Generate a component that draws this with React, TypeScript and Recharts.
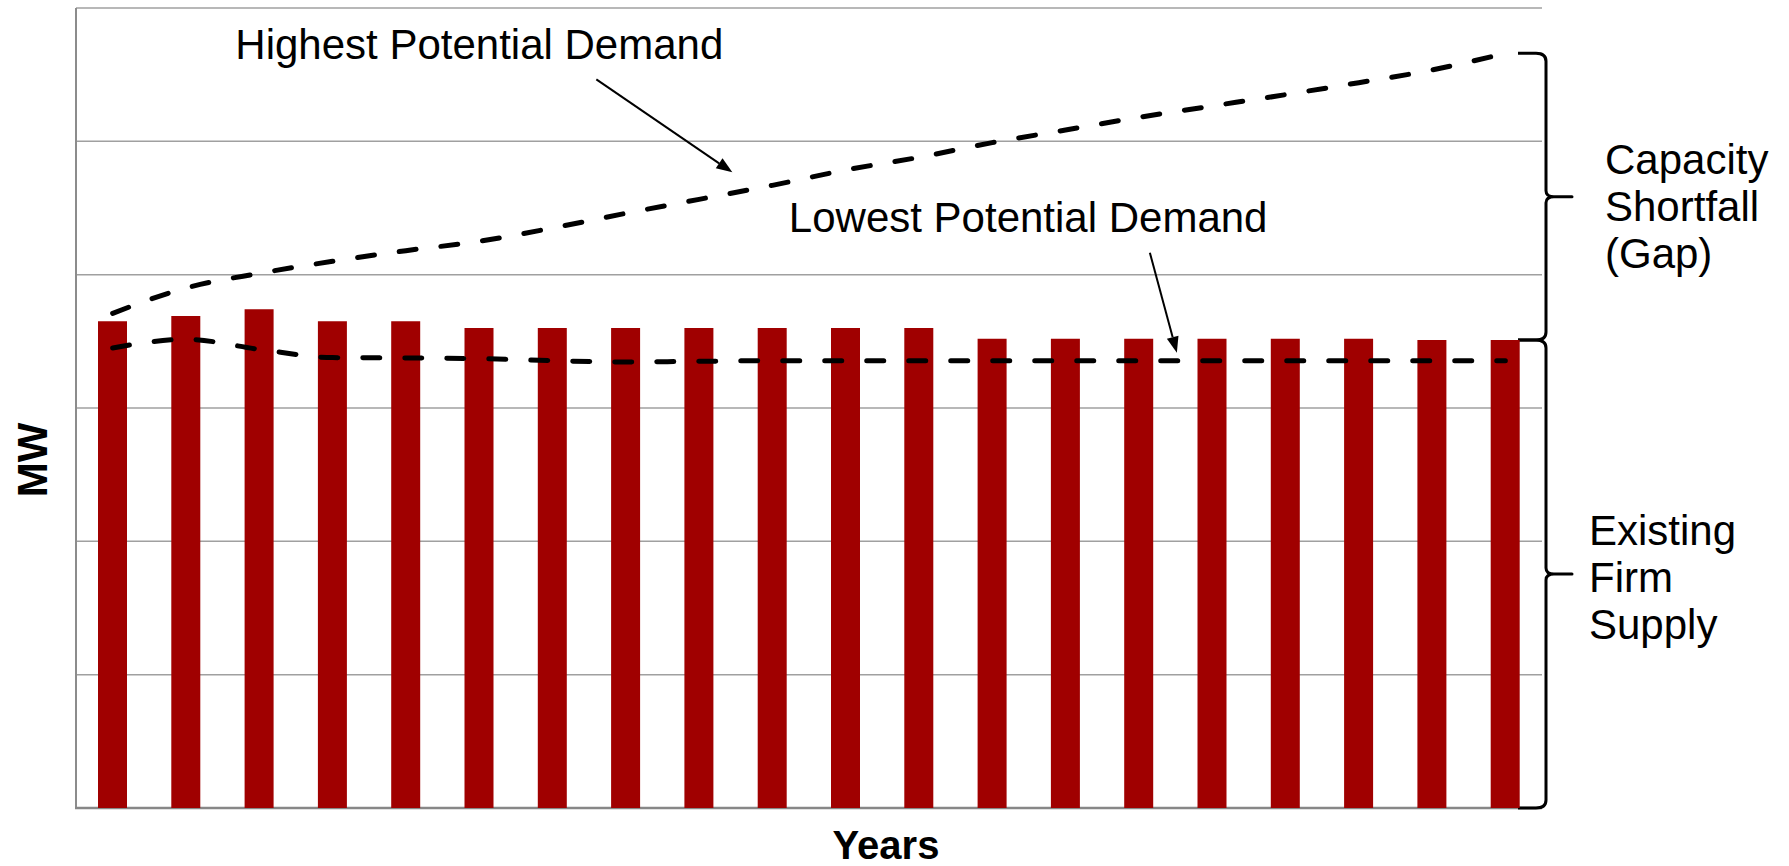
import React from 'react';
import {
  ComposedChart,
  Bar,
  Line,
  XAxis,
  YAxis,
  CartesianGrid,
  ReferenceArea,
  ReferenceDot,
} from 'recharts';

// Planning horizon (20 years) and MW series
const years = ['1', '2', '3', '4', '5', '6', '7', '8', '9', '10', '11', '12', '13', '14', '15', '16', '17', '18', '19', '20'];
const firmSupply = [3650, 3690, 3740, 3650, 3650, 3600, 3600, 3600, 3600, 3600, 3600, 3600, 3520, 3520, 3520, 3520, 3520, 3520, 3510, 3510];
const highDemand = [3710, 3900, 4010, 4100, 4180, 4250, 4350, 4460, 4565, 4670, 4785, 4880, 4990, 5085, 5180, 5265, 5350, 5440, 5535, 5660];
const lowDemand = [3450, 3515, 3440, 3378, 3375, 3370, 3355, 3345, 3350, 3355, 3355, 3355, 3355, 3355, 3355, 3355, 3355, 3355, 3355, 3355];
const yTicks = [0, 1000, 2000, 3000, 4000, 5000, 6000];

const FONT = '"Liberation Sans", Arial, sans-serif';
const LAST = years.length - 1;

const chartData = years.map((year, i) => ({
  year,
  supply: firmSupply[i],
  high: highDemand[i],
  low: lowDemand[i],
}));

function Arrow({ x1, y1, x2, y2 }: { x1: number; y1: number; x2: number; y2: number }) {
  const ang = Math.atan2(y2 - y1, x2 - x1);
  const len = 16;
  const half = 6;
  const bx = x2 - len * Math.cos(ang);
  const by = y2 - len * Math.sin(ang);
  const px = -Math.sin(ang) * half;
  const py = Math.cos(ang) * half;
  return (
    <g>
      <line x1={x1} y1={y1} x2={bx} y2={by} stroke="#000" strokeWidth={2} />
      <polygon points={`${x2},${y2} ${bx + px},${by + py} ${bx - px},${by - py}`} fill="#000" />
    </g>
  );
}

// left/bottom axis lines and the two axis titles
const frame = (props: any) => {
  const { x, y, width, height } = props;
  const yb = y + height;
  return (
    <g>
      <line x1={x} y1={y} x2={x} y2={yb} stroke="#8c8c8c" strokeWidth={2} />
      <line x1={x - 1} y1={yb} x2={x + width} y2={yb} stroke="#878787" strokeWidth={2.5} />
      <text
        transform={`translate(${x - 29},${y + height / 2 + 52}) rotate(-90)`}
        textAnchor="middle"
        fontFamily={FONT}
        fontWeight="bold"
        fontSize={42}
        fill="#000"
      >
        MW
      </text>
      <text x={886} y={yb + 51} textAnchor="middle" fontFamily={FONT} fontWeight="bold" fontSize={40} fill="#000">
        Years
      </text>
    </g>
  );
};

// curly brace to the right of the plot, spanning the given y-range
function makeBrace(lines: string[], textDx: number, firstDy: number) {
  return (props: any) => {
    const { x, y, width, height } = props;
    const xr = x + width;
    const yT = y;
    const yB = y + height;
    const ym = (yT + yB) / 2;
    const x0 = xr - 24;
    const xv = xr + 4;
    const xt = xr + 30;
    const d = [
      `M ${x0} ${yT}`,
      `L ${xv - 10} ${yT}`,
      `Q ${xv} ${yT} ${xv} ${yT + 8}`,
      `L ${xv} ${ym - 6}`,
      `Q ${xv} ${ym} ${xv + 8} ${ym}`,
      `L ${xt} ${ym}`,
      `L ${xv + 8} ${ym}`,
      `Q ${xv} ${ym} ${xv} ${ym + 6}`,
      `L ${xv} ${yB - 8}`,
      `Q ${xv} ${yB} ${xv - 10} ${yB}`,
      `L ${x0} ${yB}`,
    ].join(' ');
    return (
      <g>
        <path d={d} fill="none" stroke="#000" strokeWidth={3} strokeLinejoin="round" />
        <text x={xr + textDx} y={ym + firstDy} fontFamily={FONT} fontSize={42} fill="#000">
          {lines.map((t, i) => (
            <tspan key={t} x={xr + textDx} dy={i === 0 ? 0 : 47}>
              {t}
            </tspan>
          ))}
        </text>
      </g>
    );
  };
}

const highNote = (p: any) => (
  <g>
    <text x={p.cx - 537} y={p.cy - 126} fontFamily={FONT} fontSize={42} fill="#000">
      Highest Potential Demand
    </text>
    <Arrow x1={p.cx - 176} y1={p.cy - 106} x2={p.cx - 40} y2={p.cy - 13} />
  </g>
);

const lowNote = (p: any) => (
  <g>
    <text x={p.cx - 350} y={p.cy - 129} fontFamily={FONT} fontSize={42} fill="#000">
      Lowest Potential Demand
    </text>
    <Arrow x1={p.cx + 11} y1={p.cy - 108} x2={p.cx + 38} y2={p.cy - 8} />
  </g>
);

export default function App() {
  return (
    <div style={{ position: 'absolute', left: 0, top: 0, width: 1789, height: 866, background: '#fff' }}>
      <ComposedChart
        width={1789}
        height={866}
        data={chartData}
        margin={{ top: 8, right: 247, bottom: 58, left: 76 }}
      >
        <CartesianGrid vertical={false} horizontalValues={yTicks} stroke="#a0a0a0" strokeWidth={1.5} />
        <XAxis dataKey="year" hide />
        <YAxis type="number" domain={[0, 6000]} ticks={yTicks} hide />
        <Bar dataKey="supply" fill="#a00000" barSize={29} isAnimationActive={false} />
        <Line
          type="monotone"
          dataKey="high"
          stroke="#000"
          strokeWidth={5}
          strokeDasharray="17 25"
          strokeLinecap="round"
          dot={false}
          activeDot={false}
          isAnimationActive={false}
        />
        <Line
          type="monotone"
          dataKey="low"
          stroke="#000"
          strokeWidth={5}
          strokeDasharray="17 25"
          strokeLinecap="round"
          dot={false}
          activeDot={false}
          isAnimationActive={false}
        />
        <ReferenceArea y1={yTicks[0]} y2={yTicks[yTicks.length - 1]} fillOpacity={0} shape={frame} />
        <ReferenceArea
          y1={firmSupply[LAST]}
          y2={highDemand[LAST]}
          fillOpacity={0}
          shape={makeBrace(['Capacity', 'Shortfall', '(Gap)'], 63, -23)}
        />
        <ReferenceArea
          y1={0}
          y2={firmSupply[LAST]}
          fillOpacity={0}
          shape={makeBrace(['Existing', 'Firm', 'Supply'], 47, -29)}
        />
        <ReferenceDot x={years[9]} y={highDemand[9]} r={0} shape={highNote} />
        <ReferenceDot x={years[14]} y={lowDemand[14]} r={0} shape={lowNote} />
      </ComposedChart>
    </div>
  );
}
